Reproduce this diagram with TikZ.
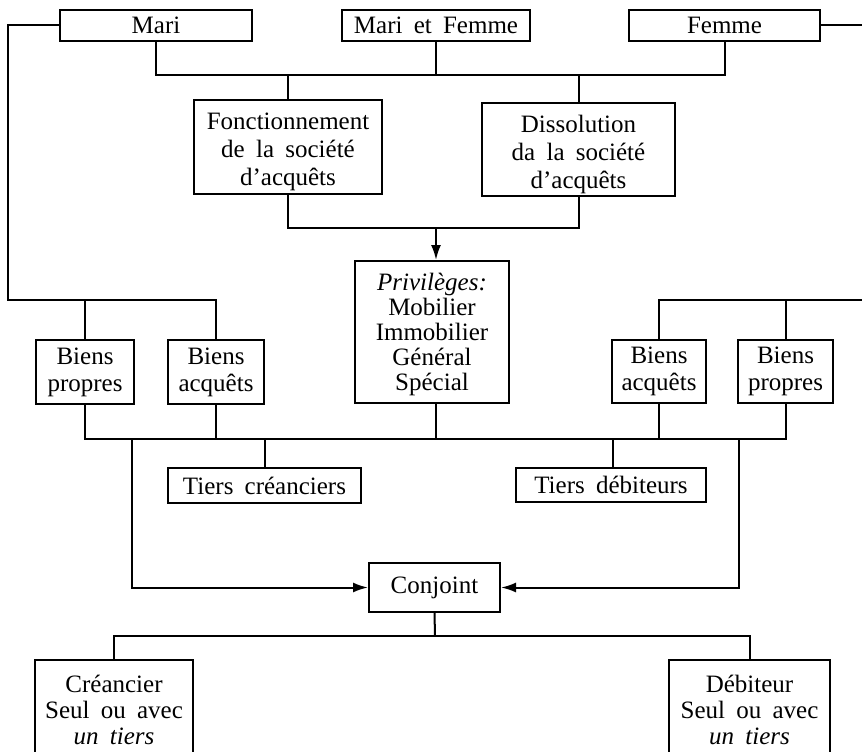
\documentclass[tikz,border=0pt]{standalone}
\usepackage{fontspec}
\setmainfont{Liberation Serif}
\usetikzlibrary{arrows.meta}
\newcommand{\wsp}{\spaceskip=0.45em plus 0.1em\relax}
\newcommand{\fA}{\fontsize{25}{27.5}\selectfont\wsp}
\newcommand{\fB}{\fontsize{25}{25}\selectfont\wsp}
\newcommand{\fC}{\fontsize{25}{27}\selectfont\wsp}
\newcommand{\fD}{\fontsize{25}{26}\selectfont\wsp}
\newcommand{\fE}{\fontsize{25}{28}\selectfont\wsp}
\newcommand{\topstrut}[1]{\rule{0pt}{#1}}
\tikzset{
  box/.style={draw, line width=2pt, inner sep=0pt, align=center, font=\fA},
  link/.style={line width=2pt},
  arr/.style={line width=2pt, -{Latex[length=15pt,width=10pt]}}
}
\begin{document}
\begin{tikzpicture}[x=1pt,y=-1pt]
\useasboundingbox (0,0) rectangle (862,752);
\clip (0,0) rectangle (862,752);
% top row
\node[box, minimum width=192pt, minimum height=31pt] (mari) at (156,25.5) {Mari};
\node[box, minimum width=188pt, minimum height=31pt] (mef) at (436,25.5) {Mari et Femme};
\node[box, minimum width=191pt, minimum height=31pt] (femme) at (724.5,25.5) {Femme};
% second row
\node[box, minimum width=188pt, minimum height=94pt, font=\fE] (fonc) at (288,147) {\topstrut{27pt}Fonctionnement\\de la société\\d’acquêts};
\node[box, minimum width=193pt, minimum height=93pt, font=\fE] (diss) at (578.5,149.5) {\topstrut{27pt}Dissolution\\da la société\\d’acquêts};
% privileges
\node[box, minimum width=154pt, minimum height=142pt, font=\fB] (priv) at (432,332) {\topstrut{23pt}\textit{Privilèges:}\\Mobilier\\Immobilier\\Général\\Spécial};
% biens
\node[box, minimum width=98pt, minimum height=64pt, font=\fC] (bpL) at (85,372) {Biens\\propres};
\node[box, minimum width=96pt, minimum height=64pt, font=\fC] (baL) at (216,372) {Biens\\acquêts};
\node[box, minimum width=94pt, minimum height=63pt, font=\fC] (baR) at (659,371.5) {Biens\\acquêts};
\node[box, minimum width=95pt, minimum height=63pt, font=\fC] (bpR) at (785.5,371.5) {Biens\\propres};
% tiers
\node[box, minimum width=193pt, minimum height=35pt] (tc) at (264.5,485.5) {Tiers créanciers};
\node[box, minimum width=190pt, minimum height=34pt] (td) at (611,485) {Tiers débiteurs};
% conjoint
\node[box, minimum width=131pt, minimum height=49pt] (conj) at (434.5,587.5) {Conjoint};
% bottom
\node[box, minimum width=158pt, minimum height=100pt, font=\fD] (cre) at (114,710) {Créancier\\Seul ou avec\\\textit{un tiers}};
\node[box, minimum width=161pt, minimum height=100pt, font=\fD] (deb) at (749.5,710) {Débiteur\\Seul ou avec\\\textit{un tiers}};

% junction coordinates
\coordinate (jl) at (8,300);
\coordinate (jr) at (866,300);
\coordinate (t1) at (436,75);
\coordinate (t2) at (436,228);
\coordinate (t3) at (436,438.5);
\coordinate (a1) at (132,438.5);
\coordinate (a2) at (739,438.5);
\coordinate (t4) at (435,636);

% side lines
\draw[link] (mari.west) -| (jl) -| (baL.north);
\draw[link] (bpL.north) -- (bpL.north |- jl);
\draw[link] (femme.east) -| (jr) -| (baR.north);
\draw[link] (bpR.north) -- (bpR.north |- jr);
% top tree
\draw[link] (mari.south) |- (t1) -| (femme.south);
\draw[link] (mef.south) -- (t1);
\draw[link] (fonc.north) -- (fonc.north |- t1);
\draw[link] (diss.north) -- (diss.north |- t1);
% to privileges
\draw[link] (fonc.south) |- (t2) -| (diss.south);
\draw[arr] (t2) -- (t2 |- priv.north);
% lower bus
\draw[link] (bpL.south) |- (t3) -| (bpR.south);
\draw[link] (baL.south) -- (baL.south |- t3);
\draw[link] ([xshift=4pt]priv.south) -- ([xshift=4pt]priv.south |- t3);
\draw[link] (baR.south) -- (baR.south |- t3);
\draw[link] (tc.north) -- (tc.north |- t3);
\draw[link] ([xshift=2pt]td.north) -- ([xshift=2pt]td.north |- t3);
% to conjoint
\draw[arr] (a1) |- (conj.west);
\draw[arr] (a2) |- (conj.east);
% conjoint tree
\draw[link] (conj.south) -- (t4);
\draw[link] (cre.north) |- (t4) -| (deb.north);
\end{tikzpicture}
\end{document}
